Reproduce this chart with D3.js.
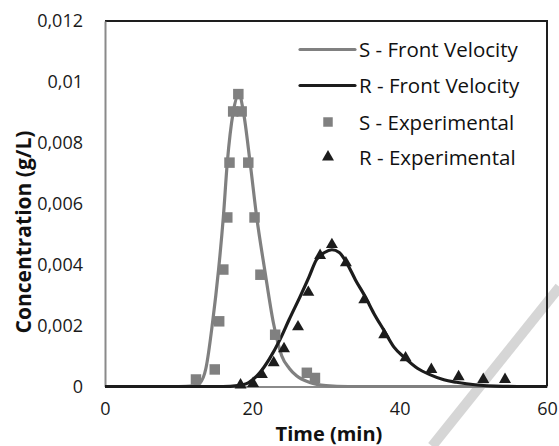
<!DOCTYPE html>
<html>
<head>
<meta charset="utf-8">
<script src="https://cdnjs.cloudflare.com/ajax/libs/d3/7.8.5/d3.min.js"></script>
<style>
  html, body { margin: 0; padding: 0; background: #fff; }
  svg { display: block; }
  text { font-family: "Open Sans", "Noto Sans", sans-serif; }
</style>
</head>
<body>
<svg id="chart" width="559" height="446"></svg>
<script>
// ---- data (time in min, concentration in g/L) ----
const xTicks = [0, 20, 40, 60];
const yTicks = [0, 0.002, 0.004, 0.006, 0.008, 0.01, 0.012];
const yTickLabels = ["0", "0,002", "0,004", "0,006", "0,008", "0,01", "0,012"];

const sModelTime = [0, 10, 12, 12.9, 13.7, 14.6, 15.4, 16.06, 16.6, 17.4, 18.2, 18.8, 19.7, 20.6, 21.7, 22.85, 24, 25, 26, 27.8, 30, 33, 60];
const sModelConc = [0, 0, 0.00002, 0.00012, 0.0006, 0.0021, 0.0038, 0.00555, 0.00735, 0.009, 0.0096, 0.009, 0.00735, 0.00555, 0.0038, 0.0021, 0.001, 0.0006, 0.00035, 0.00013, 0.00003, 0, 0];

const rModelTime = [0, 16, 18, 19.5, 21, 22.3, 23.75, 25, 26.5, 27.7, 28.7, 29.8, 30.8, 31.8, 32.8, 34, 35.3, 36.5, 37.8, 39.2, 40.7, 42.4, 44.1, 46, 47.7, 50.5, 53, 56, 60];
const rModelConc = [0, 0, 0.00003, 0.00013, 0.00045, 0.0009, 0.00154, 0.0022, 0.00296, 0.0036, 0.00416, 0.0044, 0.00449, 0.0044, 0.00406, 0.0035, 0.00296, 0.0024, 0.00187, 0.0013, 0.00094, 0.0006, 0.00039, 0.00022, 0.00014, 0.00005, 0.00001, 0, 0];

const sExpTime = [12.35, 14.9, 15.5, 16.06, 16.6, 16.9, 17.4, 18.1, 18.55, 19.45, 20.3, 21.1, 23.1, 27.4, 28.5];
const sExpConc = [0.00023, 0.00056, 0.00214, 0.00384, 0.00555, 0.00735, 0.00903, 0.0096, 0.00903, 0.00735, 0.00555, 0.00367, 0.0017, 0.00045, 0.00028];

const rExpTime = [18.4, 20.1, 21.3, 22.9, 24.3, 26.2, 27.6, 29.2, 30.8, 32.7, 35.2, 37.9, 40.8, 44.3, 48.0, 51.35, 54.3];
const rExpConc = [0.00005, 0.0001, 0.00039, 0.00078, 0.00124, 0.00196, 0.00309, 0.0043, 0.00466, 0.00406, 0.00285, 0.0017, 0.00094, 0.00056, 0.00032, 0.00023, 0.00023];

const legendLabels = ["S - Front Velocity", "R - Front Velocity", "S - Experimental", "R - Experimental"];

// ---- layout ----
const svg = d3.select("#chart");
const pLeft = 105, pRight = 547, pTop = 21, pBottom = 386.5;
const x = d3.scaleLinear().domain([0, 60]).range([pLeft, pRight]);
const y = d3.scaleLinear().domain([0, 0.012]).range([pBottom, pTop]);

const grayS = "#808080";
const blackR = "#1c1c1c";

// faint diagonal scan artefact in the original picture
svg.append("line")
  .attr("x1", x(44.4)).attr("y1", y(-0.00196))
  .attr("x2", x(61.7)).attr("y2", y(0.00327))
  .attr("stroke", "#d6d6d6").attr("stroke-width", 10);

// plot frame (top and right)
svg.append("path")
  .attr("d", `M${pLeft},${pTop}H${pRight}V${pBottom}`)
  .attr("fill", "none").attr("stroke", "#1e1e1e").attr("stroke-width", 2);

// axes
const yAxis = d3.axisLeft(y).tickValues(yTicks).tickSize(0).tickPadding(22)
  .tickFormat((d, i) => yTickLabels[i]);
const gy = svg.append("g").attr("transform", `translate(${pLeft},0)`).call(yAxis);
gy.select(".domain").attr("stroke", "#8a8a8a").attr("stroke-width", 2);
gy.selectAll("text").attr("font-size", 18).attr("fill", "#1a1a1a").attr("font-family", "Open Sans");

const xAxis = d3.axisBottom(x).tickValues(xTicks).tickSize(0).tickPadding(16)
  .tickFormat(d3.format("d"));
const gx = svg.append("g").attr("transform", `translate(0,${pBottom})`).call(xAxis);
gx.select(".domain").attr("stroke", "#8a8a8a").attr("stroke-width", 2);
gx.selectAll("text").attr("font-size", 18).attr("fill", "#1a1a1a").attr("font-family", "Open Sans");

// axis titles
svg.append("text")
  .attr("transform", `translate(31,232) rotate(-90)`)
  .attr("text-anchor", "middle")
  .attr("font-size", 21).attr("font-weight", "bold").attr("fill", "#111")
  .text("Concentration (g/L)");
svg.append("text")
  .attr("x", 329).attr("y", 441)
  .attr("text-anchor", "middle")
  .attr("font-size", 20).attr("font-weight", "bold").attr("fill", "#111")
  .text("Time (min)");

// model curves
const line = d3.line().x(d => x(d[0])).y(d => y(d[1])).curve(d3.curveMonotoneX);
const sModel = sModelTime.map((t, i) => [t, sModelConc[i]]);
const rModel = rModelTime.map((t, i) => [t, rModelConc[i]]);
svg.append("path").datum(sModel).attr("d", line)
  .attr("fill", "none").attr("stroke", grayS).attr("stroke-width", 3.2);
svg.append("path").datum(rModel).attr("d", line)
  .attr("fill", "none").attr("stroke", blackR).attr("stroke-width", 3.2);

// experimental points
const sExp = sExpTime.map((t, i) => [t, sExpConc[i]]);
const rExp = rExpTime.map((t, i) => [t, rExpConc[i]]);
const sq = d3.symbol().type(d3.symbolSquare).size(110);
const tri = d3.symbol().type(d3.symbolTriangle).size(62);
svg.append("g").selectAll("path").data(sExp).join("path")
  .attr("d", sq).attr("fill", grayS)
  .attr("transform", d => `translate(${x(d[0])},${y(d[1])})`);
svg.append("g").selectAll("path").data(rExp).join("path")
  .attr("d", tri).attr("fill", blackR)
  .attr("transform", d => `translate(${x(d[0])},${y(d[1])})`);

// legend
const lg = svg.append("g");
const rowsY = [49.5, 85.5, 122, 157];
lg.append("line").attr("x1", 300).attr("x2", 355).attr("y1", rowsY[0]).attr("y2", rowsY[0])
  .attr("stroke", grayS).attr("stroke-width", 3.2).attr("stroke-linecap", "round");
lg.append("line").attr("x1", 300).attr("x2", 355).attr("y1", rowsY[1]).attr("y2", rowsY[1])
  .attr("stroke", blackR).attr("stroke-width", 3.2).attr("stroke-linecap", "round");
lg.append("path").attr("d", d3.symbol().type(d3.symbolSquare).size(90))
  .attr("fill", grayS).attr("transform", `translate(328,${rowsY[2]})`);
lg.append("path").attr("d", tri)
  .attr("fill", blackR).attr("transform", `translate(328,${rowsY[3]})`);
lg.selectAll("text.lab").data(legendLabels).join("text")
  .attr("class", "lab")
  .attr("x", 359).attr("y", (d, i) => rowsY[i] + 7.5)
  .attr("font-size", 20.5).attr("fill", "#111")
  .text(d => d);
</script>
</body>
</html>
